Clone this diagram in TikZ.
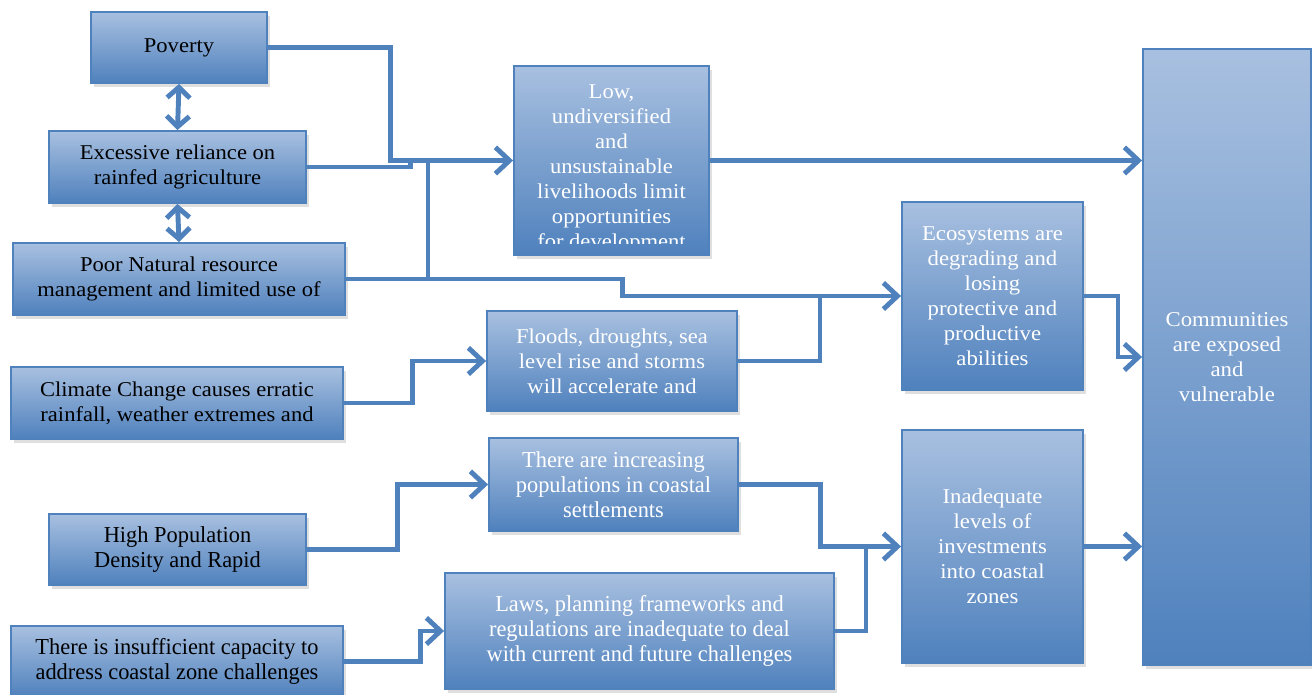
\documentclass[tikz,border=0pt]{standalone}
\usepackage{fontspec}
\setmainfont{Liberation Serif}[FakeStretch=1.07]
\newfontfamily\narrowfont{Liberation Serif}[FakeStretch=0.98]
\newfontfamily\widefont{Liberation Serif}[FakeStretch=1.08]
\usetikzlibrary{arrows.meta,shadows,calc}

\definecolor{boxtop}{RGB}{168,192,224}
\definecolor{boxbot}{RGB}{79,129,189}
\definecolor{linkblue}{RGB}{79,129,189}

\begin{document}
\begin{tikzpicture}[x=0.02cm,y=-0.02cm,
  box/.style={draw=linkblue, line width=1.1pt, top color=boxtop, bottom color=boxbot,
    drop shadow={opacity=0.25,shadow xshift=0.06cm,shadow yshift=-0.08cm},
    align=center, inner sep=2pt, font=\fontsize{12}{14.2}\selectfont},
  cause/.style={box, text=black},
  effect/.style={box, text=white},
  narrow/.style={font=\narrowfont\fontsize{13}{14.2}\selectfont},
  wide/.style={font=\widefont\fontsize{12}{14.2}\selectfont},
  link/.style={draw=linkblue, line width=2.8pt},
  arrowed/.style={link, -{Straight Barb[length=8pt,width=15pt,line width=2.8pt]}},
  both/.style={link, {Straight Barb[length=6pt,width=13pt,line width=2.8pt]}-{Straight Barb[length=6pt,width=13pt,line width=2.8pt]}}]

\useasboundingbox (0,0) rectangle (1312,695);

% Causes on the left
\node[cause, minimum width=3.52cm, minimum height=1.42cm] (pov) at (179,47.5) {Poverty};
\node[cause, minimum width=5.14cm, minimum height=1.44cm] (exc) at (177.5,167) {Excessive reliance on\\rainfed agriculture};
\node[cause, minimum width=6.64cm, minimum height=1.44cm] (poor) at (179,279) {Poor Natural resource\\management and limited use of};
\node[cause, minimum width=6.64cm, minimum height=1.44cm] (clim) at (177,403) {Climate Change causes erratic\\rainfall, weather extremes and};
\node[cause, narrow, minimum width=5.14cm, minimum height=1.42cm] (high) at (177.5,549.5) {High Population\\Density and Rapid};
\node[cause, narrow, minimum width=6.64cm, minimum height=1.42cm] (insuf) at (177,661.5) {There is insufficient capacity to\\address coastal zone challenges};

% Middle column
\node[effect, minimum width=3.9cm, minimum height=3.78cm] (low) at (611.5,160.5) {};
\begin{scope}
  \clip (low.north west) rectangle ($(low.south east)+(0,-12)$);
  \node[text=white, align=center, font=\fontsize{12}{14.2}\selectfont] (lowtext) at (611.5,169)
    {Low,\\undiversified\\and\\unsustainable\\livelihoods limit\\opportunities\\for development};
\end{scope}
\node[effect, minimum width=5cm, minimum height=2cm] (flood) at (612,361) {Floods, droughts, sea\\level rise and storms\\will accelerate and};
\node[effect, narrow, minimum width=4.98cm, minimum height=1.86cm] (incr) at (613.5,484.5) {There are increasing\\populations in coastal\\settlements};
\node[effect, narrow, minimum width=7.78cm, minimum height=2.32cm] (laws) at (639.5,631) {Laws, planning frameworks and\\regulations are inadequate to deal\\with current and future challenges};

% Right columns
\node[effect, wide, minimum width=3.62cm, minimum height=3.76cm] (eco) at (992.5,296) {Ecosystems are\\degrading and\\losing\\protective and\\productive\\abilities};
\node[effect, wide, minimum width=3.62cm, minimum height=4.66cm] (inad) at (992.5,546.5) {Inadequate\\levels of\\investments\\into coastal\\zones};
\node[effect, wide, minimum width=3.36cm, minimum height=12.32cm] (comm) at (1227,357) {Communities\\are exposed\\and\\vulnerable};

% Junction points
\coordinate (lowjoin) at (428,160);
\coordinate (ecojoin) at (820,296);
\coordinate (inadjoin) at (866,546.5);

% Two-way links between causes
\draw[both] (pov.south) -- (exc.north);
\draw[both] (exc.south) -- (poor.north);

% Links into the livelihoods box
\draw[arrowed] (pov.east) -- ++(123,0) |- (low.west);
\draw[link] (exc.east) -- ++(104,0) -- ++(0,-7);
\draw[link] (poor.east) -| (lowjoin);
\draw[arrowed] (low.east) -- (low.east -| comm.west);

% Links into the ecosystems box
\draw[arrowed] (poor.east) -- ++(277,0) |- (eco.west);
\draw[arrowed] (clim.east) -- ++(69,0) |- (flood.west);
\draw[link] (flood.east) -| (ecojoin);
\draw[arrowed] (eco.east) -- ++(34,0) |- (comm.west);

% Links into the investments box
\draw[arrowed] (high.east) -- ++(91,0) |- (incr.west);
\draw[arrowed] (incr.east) -- ++(82,0) |- (inad.west);
\draw[arrowed] (insuf.east) -- ++(77,0) |- (laws.west);
\draw[link] (laws.east) -| (inadjoin);
\draw[arrowed] (inad.east) -- (inad.east -| comm.west);

\end{tikzpicture}
\end{document}
